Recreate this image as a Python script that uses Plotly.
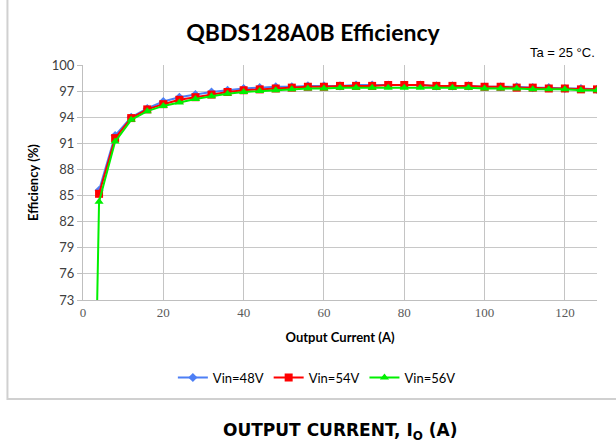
import plotly.graph_objects as go

current = [4, 8, 12, 16, 20, 24, 28, 32, 36, 40, 44, 48, 52, 56, 60, 64, 68, 72, 76, 80,
           84, 88, 92, 96, 100, 104, 108, 112, 116, 120, 124, 128]
eff_48 = [85.6, 91.9, 94.0, 95.0, 95.8, 96.3, 96.6, 96.9, 97.1, 97.3, 97.4, 97.5, 97.5, 97.6,
          97.6, 97.6, 97.7, 97.7, 97.7, 97.7, 97.7, 97.6, 97.6, 97.6, 97.5, 97.5, 97.5, 97.4,
          97.4, 97.3, 97.3, 97.2]
eff_54 = [85.2, 91.6, 93.9, 94.9, 95.5, 96.0, 96.3, 96.6, 96.9, 97.1, 97.2, 97.3, 97.4, 97.5,
          97.5, 97.6, 97.6, 97.6, 97.7, 97.7, 97.7, 97.6, 97.6, 97.6, 97.5, 97.5, 97.4, 97.4,
          97.3, 97.3, 97.2, 97.2]
current_56 = [3] + current
eff_56 = [60.0, 84.3, 91.2, 93.7, 94.7, 95.3, 95.7, 96.1, 96.4, 96.7, 96.9, 97.0, 97.1, 97.2,
          97.3, 97.3, 97.4, 97.4, 97.4, 97.4, 97.4, 97.4, 97.4, 97.4, 97.4, 97.3, 97.3, 97.3,
          97.2, 97.2, 97.2, 97.1, 97.1]
y_ticks = [73, 76, 79, 82, 85, 88, 91, 94, 97, 100]
x_ticks = [0, 20, 40, 60, 80, 100, 120]

fig = go.Figure()
fig.add_trace(go.Scatter(x=current, y=eff_48, name="Vin=48V", mode="lines+markers",
                         line=dict(color="#4d7ff5", width=2),
                         marker=dict(symbol="diamond", size=7, color="#4d7ff5")))
fig.add_trace(go.Scatter(x=current, y=eff_54, name="Vin=54V", mode="lines+markers",
                         line=dict(color="#ff0000", width=2),
                         marker=dict(symbol="square", size=8, color="#ff0000")))
fig.add_trace(go.Scatter(x=current_56, y=eff_56, name="Vin=56V", mode="lines+markers",
                         line=dict(color="#00f000", width=2),
                         marker=dict(symbol="triangle-up", size=8, color="#00f000")))

fig.update_layout(
    width=616, height=445,
    margin=dict(l=83, r=19, t=65, b=145),
    paper_bgcolor="white", plot_bgcolor="white",
    title=dict(text="<b>QBDS128A0B Efficiency</b>", x=0.508, xanchor="center",
               y=0.925, yanchor="middle",
               font=dict(family="Lato", size=23, color="black")),
    xaxis=dict(range=[0, 128], tickvals=x_ticks, showgrid=True, gridcolor="#c4c4c4",
               gridwidth=1, showline=True, linecolor="#bfbfbf", zeroline=False,
               ticks="", tickfont=dict(family="Liberation Serif", size=13, color="#595959"),
               title=dict(text="<b>Output Current (A)</b>", standoff=14,
                          font=dict(family="Lato", size=13, color="black"))),
    yaxis=dict(range=[73, 100], tickvals=y_ticks, showgrid=True, gridcolor="#c8c8c8",
               gridwidth=1, showline=True, linecolor="#bfbfbf", zeroline=False,
               ticks="outside", ticklen=5, tickcolor="#bfbfbf",
               tickfont=dict(family="Lato", size=13, color="#404040"),
               title=dict(text="<b>Efficiency (%)</b>", standoff=10,
                          font=dict(family="Lato", size=13, color="black"))),
    legend=dict(orientation="h", x=0.455, xanchor="center", y=-0.33, yanchor="middle",
                font=dict(family="Lato", size=13, color="black"), itemwidth=30),
    showlegend=True,
)

fig.add_annotation(text="Ta = 25 °C.", xref="paper", yref="paper", x=1.0, y=1.055,
                   xanchor="right", yanchor="middle", showarrow=False,
                   font=dict(family="Liberation Sans", size=13, color="black"))
fig.add_annotation(text="<b>OUTPUT CURRENT, I<sub>O</sub> (A)</b>", xref="paper", yref="paper",
                   x=0.5, y=-0.56, xanchor="center", yanchor="middle", showarrow=False,
                   font=dict(family="DejaVu Sans", size=17, color="black"))
fig.add_shape(type="rect", xref="paper", yref="paper", x0=-0.147, x1=1.1, y0=-0.421, y1=1.298,
              line=dict(color="#d0d0d0", width=2), layer="below")

fig.write_html("out.html", config={"displayModeBar": False},
               post_script="document.body.style.margin='0';document.body.style.overflow='hidden';")
